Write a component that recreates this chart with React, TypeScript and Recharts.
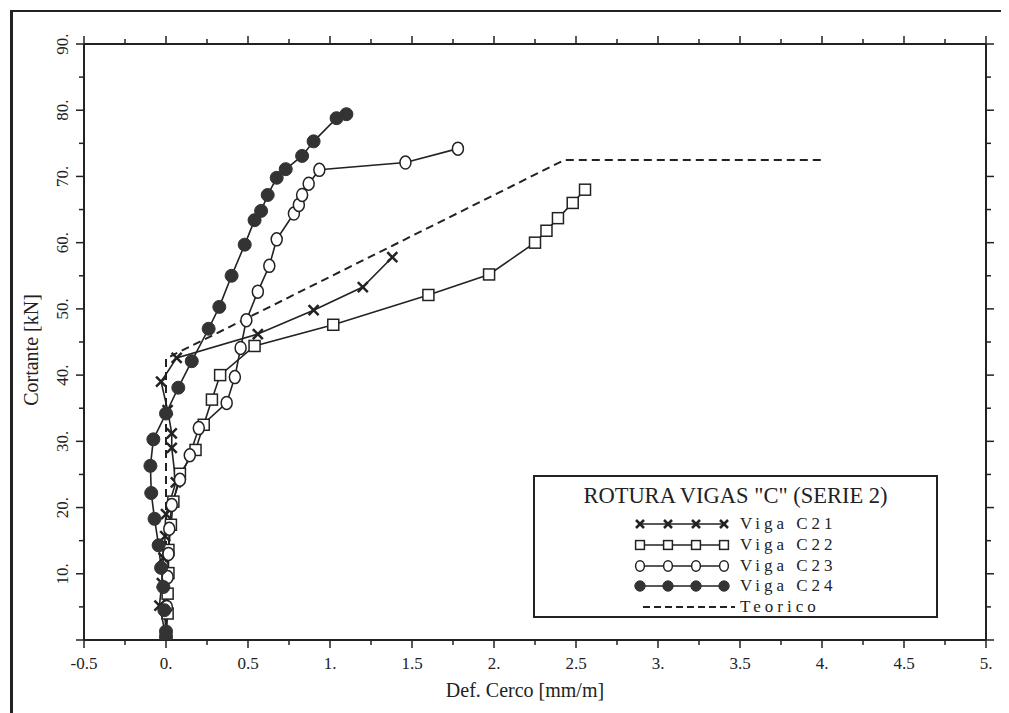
import React from "react";
import { LineChart, Line, XAxis, YAxis, Legend, Label } from "recharts";

// [deformacion mm/m, cortante kN]
const vigaC21 = [
	[0.0, 0.5], [-0.04, 5.2], [-0.025, 8.6], [-0.015, 12.4], [-0.005, 15.7],
	[0.0, 19.0], [0.06, 23.8], [0.035, 29.0], [0.035, 31.2], [0.01, 34.7],
	[-0.03, 39.0], [0.065, 42.6], [0.56, 46.2], [0.9, 49.8], [1.2, 53.3],
	[1.38, 57.8],
];
const vigaC22 = [
	[0.0, 0.5], [0.01, 4.0], [0.01, 7.0], [0.015, 10.1], [0.015, 13.6],
	[0.03, 17.4], [0.045, 20.9], [0.085, 25.1], [0.18, 28.7], [0.23, 32.5],
	[0.28, 36.3], [0.33, 40.0], [0.54, 44.4], [1.02, 47.6], [1.6, 52.1],
	[1.97, 55.2], [2.25, 60.0], [2.32, 61.8], [2.39, 63.7], [2.48, 66.0],
	[2.555, 68.0],
];
const vigaC23 = [
	[0.0, 0.5], [0.005, 5.0], [0.01, 9.5], [0.015, 13.0], [0.02, 16.8],
	[0.035, 20.4], [0.085, 24.2], [0.145, 27.9], [0.2, 32.0], [0.37, 35.8],
	[0.42, 39.7], [0.455, 44.1], [0.49, 48.3], [0.56, 52.6], [0.63, 56.5],
	[0.675, 60.5], [0.78, 64.4], [0.81, 65.7], [0.83, 67.2], [0.87, 68.9],
	[0.935, 71.0], [1.46, 72.1], [1.78, 74.2],
];
const vigaC24 = [
	[0.0, 0.5], [0.0, 1.3], [-0.01, 4.5], [-0.016, 8.0], [-0.03, 10.9],
	[-0.045, 14.3], [-0.07, 18.3], [-0.09, 22.2], [-0.095, 26.3], [-0.077, 30.3],
	[0.0, 34.2], [0.075, 38.1], [0.157, 42.1], [0.26, 47.0], [0.325, 50.3],
	[0.4, 55.0], [0.48, 59.7], [0.54, 63.4], [0.58, 64.8], [0.62, 67.2],
	[0.675, 69.8], [0.73, 71.1], [0.83, 73.1], [0.9, 75.3], [1.04, 78.8],
	[1.1, 79.4],
];
const teorico = [
	[0.0, 0.0], [0.0, 42.5], [2.43, 72.5], [4.0, 72.5],
];

const xMajor = [-0.5, 0, 0.5, 1, 1.5, 2, 2.5, 3, 3.5, 4, 4.5, 5];
const xLabels = ["-0.5", "0.", "0.5", "1.", "1.5", "2.", "2.5", "3.", "3.5", "4.", "4.5", "5."];
const xMinor = [-0.25, 0.25, 0.75, 1.25, 1.75, 2.25, 2.75, 3.25, 3.75, 4.25, 4.75];
const yMajor = [0, 10, 20, 30, 40, 50, 60, 70, 80, 90];
const yLabels = ["", "10.", "20.", "30.", "40.", "50.", "60.", "70.", "80.", "90."];
const yMinor = [5, 15, 25, 35, 45, 55, 65, 75, 85];

const legendTitle = 'ROTURA VIGAS "C" (SERIE 2)';

const INK = "#222";
const FONT = "'Liberation Serif', serif";

const toPts = (arr: number[][]) => arr.map(([x, y]) => ({ x, y }));

const series = [
	{ name: "Viga C21", data: toPts(vigaC21), marker: "cross" },
	{ name: "Viga C22", data: toPts(vigaC22), marker: "square" },
	{ name: "Viga C23", data: toPts(vigaC23), marker: "open" },
	{ name: "Viga C24", data: toPts(vigaC24), marker: "filled" },
];

const xTicks = [...xMajor, ...xMinor].sort((a, b) => a - b);
const yTicks = [...yMajor, ...yMinor].sort((a, b) => a - b);

function Marker({ kind, cx, cy, k = 1 }: { kind: string; cx: number; cy: number; k?: number }) {
	if (kind === "cross") {
		const s = 5 * k;
		return (
			<g stroke={INK} strokeWidth={2.5}>
				<line x1={cx - s} y1={cy - s} x2={cx + s} y2={cy + s} />
				<line x1={cx - s} y1={cy + s} x2={cx + s} y2={cy - s} />
			</g>
		);
	}
	if (kind === "square") {
		const h = 5.5 * k;
		return <rect x={cx - h} y={cy - h} width={2 * h} height={2 * h} fill="#fff" stroke={INK} strokeWidth={1.5} />;
	}
	if (kind === "open") {
		return <ellipse cx={cx} cy={cy} rx={5.5 * k} ry={6.5 * k} fill="#fff" stroke={INK} strokeWidth={1.5} />;
	}
	return <circle cx={cx} cy={cy} r={6.5 * k} fill="#333" stroke="#333" />;
}

function BottomTick(props: any) {
	const { x, y, payload } = props;
	const i = xMajor.indexOf(payload.value);
	const major = i >= 0;
	return (
		<g>
			<line x1={x} y1={y} x2={x} y2={y + (major ? 8 : 5)} stroke={INK} strokeWidth={1.5} />
			{major && (
				<text x={x} y={y + 29} textAnchor="middle" fontFamily={FONT} fontSize={17} fill={INK}>
					{xLabels[i]}
				</text>
			)}
		</g>
	);
}

function TopTick(props: any) {
	const { x, y, payload } = props;
	const major = xMajor.includes(payload.value);
	return <line x1={x} y1={y} x2={x} y2={y - (major ? 8 : 5)} stroke={INK} strokeWidth={1.5} />;
}

function LeftTick(props: any) {
	const { x, y, payload } = props;
	const i = yMajor.indexOf(payload.value);
	const major = i >= 0;
	return (
		<g>
			<line x1={x} y1={y} x2={x - (major ? 8 : 5)} y2={y} stroke={INK} strokeWidth={1.5} />
			{major && yLabels[i] && (
				<text
					transform={`translate(${x - 16},${y}) rotate(-90)`}
					textAnchor="middle"
					fontFamily={FONT}
					fontSize={17}
					fill={INK}
				>
					{yLabels[i]}
				</text>
			)}
		</g>
	);
}

function RightTick(props: any) {
	const { x, y, payload } = props;
	const major = yMajor.includes(payload.value);
	return <line x1={x} y1={y} x2={x + (major ? 8 : 5)} y2={y} stroke={INK} strokeWidth={1.5} />;
}

function LegendBox() {
	const rows = [...series.map((s) => ({ name: s.name, marker: s.marker })), { name: "Teorico", marker: "dash" }];
	return (
		<div
			style={{
				position: "relative",
				width: 405,
				height: 143,
				border: `2px solid ${INK}`,
				boxSizing: "border-box",
				background: "#fff",
				fontFamily: FONT,
				color: INK,
			}}
		>
			<div style={{ position: "absolute", left: 0, right: 0, top: 6, textAlign: "center", fontSize: 22.5, lineHeight: "26px" }}>
				{legendTitle}
			</div>
			{rows.map((r, i) => {
				const top = 36 + i * 20.8;
				return (
					<div key={r.name} style={{ position: "absolute", left: 0, top, height: 22, width: "100%" }}>
						<svg width={200} height={22} style={{ position: "absolute", left: 0, top: 0 }}>
							{r.marker === "dash" ? (
								<line x1={108} y1={11} x2={200} y2={11} stroke={INK} strokeWidth={2} strokeDasharray="7 4" />
							) : (
								<g>
									<line x1={105} y1={11} x2={190} y2={11} stroke={INK} strokeWidth={1.5} />
									{[105, 133, 161, 189].map((cx) => (
										<Marker key={cx} kind={r.marker} cx={cx} cy={11} k={0.8} />
									))}
								</g>
							)}
						</svg>
						<span style={{ position: "absolute", left: 205, top: 0, fontSize: 17, lineHeight: "22px", letterSpacing: 4 }}>
							{r.name}
						</span>
					</div>
				);
			})}
		</div>
	);
}

export default function App() {
	return (
		<div style={{ position: "relative", width: 1001, height: 705, overflow: "hidden", background: "#fff" }}>
			<div
				style={{
					position: "absolute",
					left: 2,
					top: 2,
					width: 1100,
					height: 800,
					borderLeft: `3px solid ${INK}`,
					borderTop: `2px solid ${INK}`,
				}}
			/>
			<LineChart width={1001} height={705} margin={{ top: 26, right: 13, bottom: 33, left: 16 }}>
				<XAxis
					xAxisId={0}
					dataKey="x"
					type="number"
					domain={[-0.5, 5]}
					allowDataOverflow
					ticks={xTicks}
					interval={0}
					tickSize={0}
					tickMargin={0}
					tick={<BottomTick />}
					height={40}
					axisLine={{ stroke: INK, strokeWidth: 2 }}
					tickLine={false}
				>
					<Label
						content={(p: any) => {
							const vb = p.viewBox;
							return (
								<text x={vb.x + vb.width / 2 - 10} y={vb.y + 57} textAnchor="middle" fontFamily={FONT} fontSize={20} fill={INK}>
									Def. Cerco [mm/m]
								</text>
							);
						}}
					/>
				</XAxis>
				<XAxis
					xAxisId="top"
					orientation="top"
					dataKey="x"
					type="number"
					domain={[-0.5, 5]}
					allowDataOverflow
					ticks={xTicks}
					interval={0}
					tickSize={0}
					tickMargin={0}
					tick={<TopTick />}
					height={10}
					axisLine={{ stroke: INK, strokeWidth: 2 }}
					tickLine={false}
				/>
				<YAxis
					yAxisId={0}
					dataKey="y"
					type="number"
					domain={[0, 90]}
					allowDataOverflow
					ticks={yTicks}
					interval={0}
					tickSize={0}
					tickMargin={0}
					tick={<LeftTick />}
					width={60}
					axisLine={{ stroke: INK, strokeWidth: 2 }}
					tickLine={false}
				>
					<Label
						content={(p: any) => {
							const vb = p.viewBox;
							const cx = vb.x + 14;
							const cy = vb.y + vb.height / 2 + 8;
							return (
								<text
									transform={`translate(${cx},${cy}) rotate(-90)`}
									textAnchor="middle"
									fontFamily={FONT}
									fontSize={20}
									fill={INK}
								>
									Cortante [kN]
								</text>
							);
						}}
					/>
				</YAxis>
				<YAxis
					yAxisId="right"
					orientation="right"
					dataKey="y"
					type="number"
					domain={[0, 90]}
					allowDataOverflow
					ticks={yTicks}
					interval={0}
					tickSize={0}
					tickMargin={0}
					tick={<RightTick />}
					width={10}
					axisLine={{ stroke: INK, strokeWidth: 2 }}
					tickLine={false}
				/>
				<Line
					data={toPts(teorico)}
					dataKey="y"
					name="Teorico"
					type="linear"
					stroke={INK}
					strokeWidth={2}
					strokeDasharray="8 5"
					dot={false}
					activeDot={false}
					isAnimationActive={false}
					legendType="none"
				/>
				{series.map((s) => (
					<Line
						key={s.name}
						data={s.data}
						dataKey="y"
						name={s.name}
						type="linear"
						stroke={INK}
						strokeWidth={1.6}
						dot={(p: any) => <Marker key={`${s.name}-${p.index}`} kind={s.marker} cx={p.cx} cy={p.cy} />}
						activeDot={false}
						isAnimationActive={false}
					/>
				))}
				<Legend
					layout="horizontal"
					verticalAlign="middle"
					align="center"
					content={() => <LegendBox />}
					wrapperStyle={{ position: "absolute", left: 525, top: 467, width: 405, height: 143 }}
				/>
			</LineChart>
		</div>
	);
}
